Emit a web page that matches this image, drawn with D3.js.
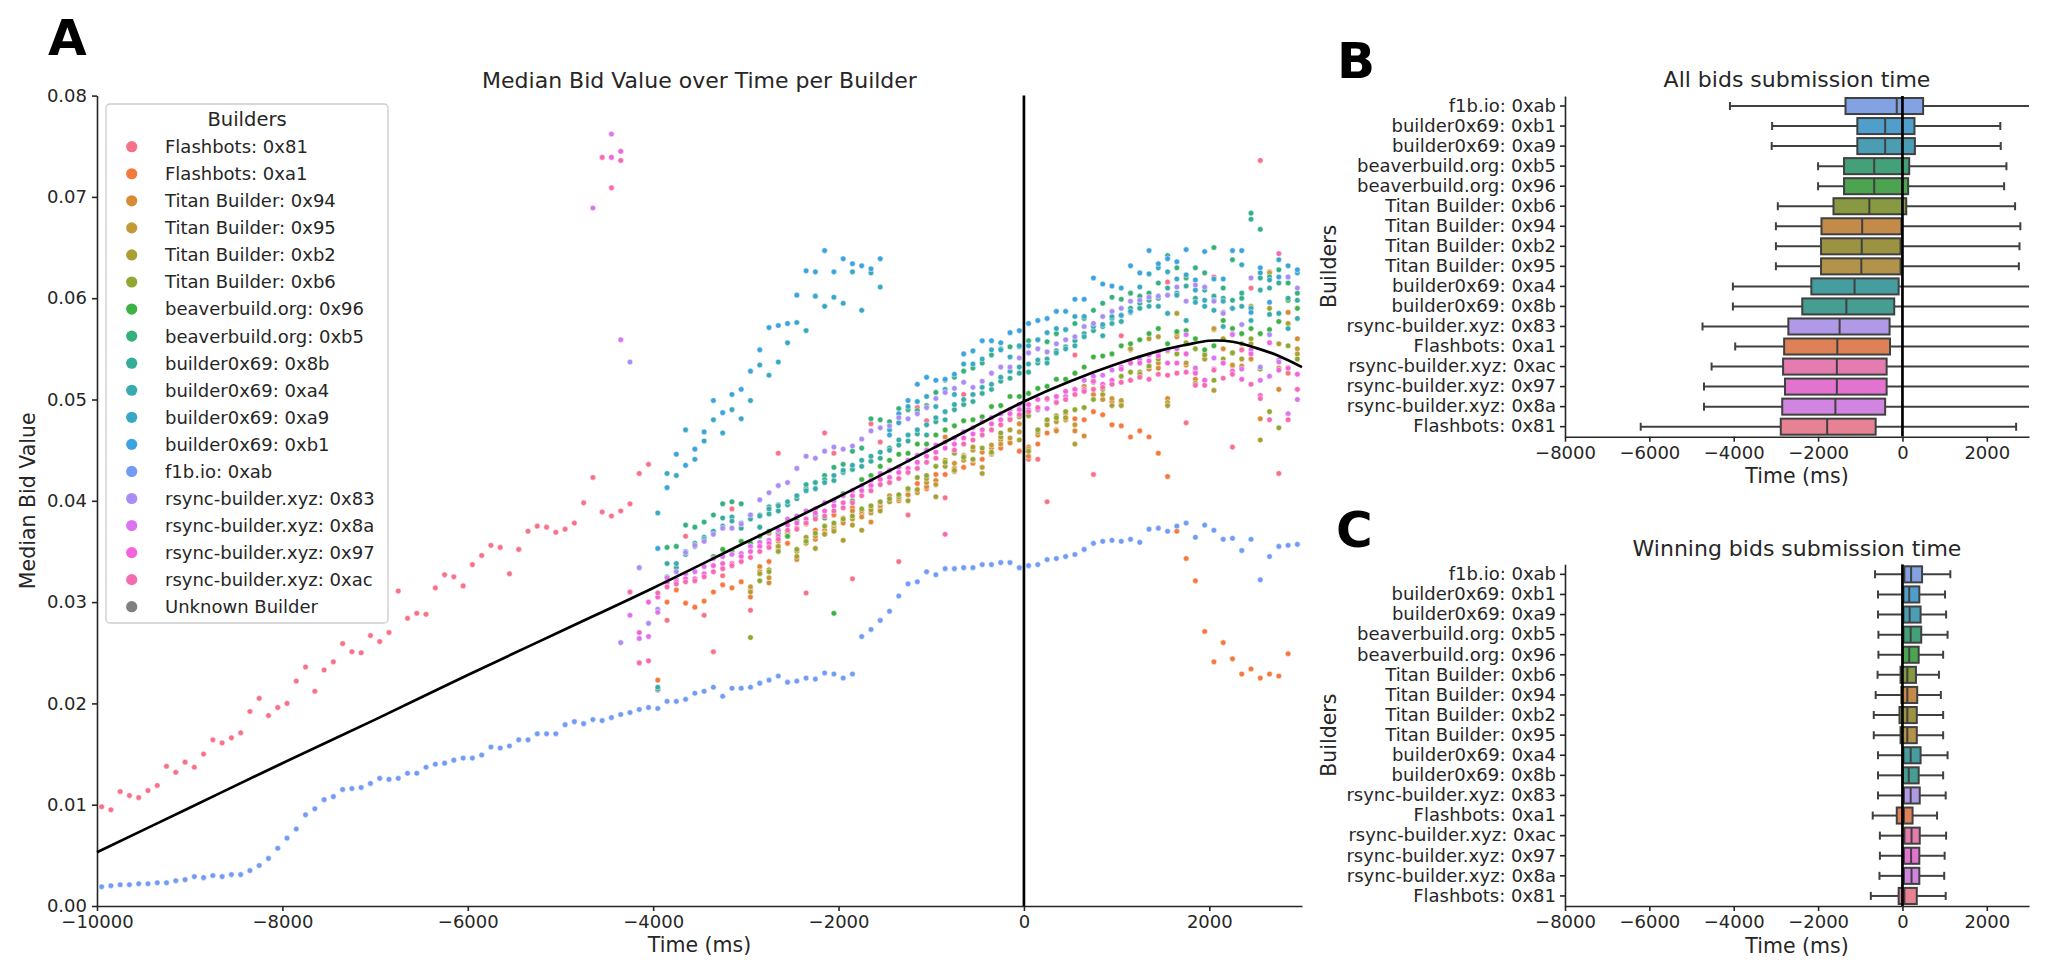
<!DOCTYPE html>
<html lang="en">
<head>
<meta charset="utf-8">
<script src="https://cdn.jsdelivr.net/npm/d3@7/dist/d3.min.js"></script>
<style>
body{margin:0;background:#fff;}
svg text{font-family:"DejaVu Sans",sans-serif;fill:#262626;}
</style>
</head>
<body>
<div id="chart"></div>
<script>
// ---- data ----
const builders=["Flashbots: 0x81","Flashbots: 0xa1","Titan Builder: 0x94","Titan Builder: 0x95","Titan Builder: 0xb2","Titan Builder: 0xb6","beaverbuild.org: 0x96","beaverbuild.org: 0xb5","builder0x69: 0x8b","builder0x69: 0xa4","builder0x69: 0xa9","builder0x69: 0xb1","f1b.io: 0xab","rsync-builder.xyz: 0x83","rsync-builder.xyz: 0x8a","rsync-builder.xyz: 0x97","rsync-builder.xyz: 0xac","Unknown Builder"]
const palette=["#f77189","#f5793f","#d88b35","#c49a39","#ab9f33","#8fa832","#3db143","#34b07c","#36ad9b","#37abae","#39a7c6","#3ba3df","#729cf3","#ab8cf4","#dc74f0","#f462dc","#f66bb0","#808080"]

// time bins (ms), 100 ms wide
const binStart=-9950, binWidth=100, binCount=130
const timeBins=d3.range(binCount).map(i=>binStart+i*binWidth)

// first bin index of every builder series (same order as builders)
const firstBin=[0,60,70,70,70,70,66,61,60,60,60,60,0,56,53,55,54]

const bid_0x81=[0.0098,0.0095,0.0113,0.0109,0.0107,0.0114,0.0119,0.0138,0.0132,0.0142,
0.0137,0.0150,0.0164,0.0161,0.0166,0.0171,0.0192,0.0205,0.0188,0.0196,
0.0200,0.0222,0.0236,0.0212,0.0233,0.0241,0.0259,0.0251,0.0250,0.0267,
0.0261,0.0270,0.0311,0.0284,0.0289,0.0288,0.0314,0.0327,0.0325,0.0316,
0.0337,0.0346,0.0356,0.0354,0.0328,0.0352,0.0370,0.0375,0.0374,0.0369,
0.0372,0.0378,0.0398,0.0423,0.0389,0.0385,0.0390,0.0397,0.0427,0.0436,
0.0213,0.0282,null,0.0365,null,0.0287,0.0251,0.0326,0.0392,null,
0.0292,null,0.0368,0.0447,null,null,0.0309,null,0.0467,0.0447,
null,0.0323,null,0.0476,0.0458,null,0.0340,0.0386,0.0492,0.0479,
null,0.0403,null,0.0505,0.0505,null,null,null,null,null,
0.0441,0.0441,0.0399,null,null,0.0544,null,0.0426,null,null,
0.0563,0.0519,null,null,null,0.0616,null,0.0477,null,null,
0.0621,null,0.0453,0.0549,0.0610,0.0736,null,0.0427,0.0526,null]
const bid_0xa1=[0.0223,0.0300,0.0312,0.0299,0.0295,0.0301,0.0310,0.0317,0.0314,0.0320,
0.0305,0.0330,0.0340,0.0352,0.0358,0.0373,0.0377,0.0371,0.0368,0.0386,
0.0380,0.0393,0.0387,0.0394,0.0392,0.0400,0.0405,0.0406,0.0417,0.0412,
0.0426,0.0426,0.0429,0.0433,0.0437,0.0441,0.0446,0.0452,0.0458,0.0449,
0.0453,0.0456,0.0467,0.0470,0.0480,0.0481,0.0480,0.0488,0.0485,0.0475,
0.0474,0.0463,0.0469,0.0463,0.0447,0.0424,0.0370,0.0343,0.0321,0.0271,
0.0241,0.0260,0.0244,0.0229,0.0234,0.0225,0.0229,0.0227,0.0249]
const bid_0x94=[0.0312,0.0335,0.0319,0.0355,0.0366,0.0342,0.0360,0.0362,0.0371,0.0375,
0.0378,0.0390,0.0384,0.0379,0.0395,0.0418,0.0400,0.0406,0.0410,0.0414,
0.0420,0.0463,0.0432,0.0445,0.0440,0.0448,0.0452,0.0460,0.0457,0.0476,
0.0444,0.0465,0.0477,0.0469,0.0486,0.0469,0.0464,0.0505,0.0500,0.0498,
0.0497,0.0549,0.0523,0.0530,0.0531,0.0501,0.0562,0.0534,0.0520,0.0540,
0.0569,0.0550,0.0533,0.0533,0.0540,0.0481,0.0626,0.0510,0.0586,0.0560]
const bid_0x95=[0.0315,0.0330,0.0324,0.0360,0.0370,0.0350,0.0358,0.0365,0.0368,0.0372,
0.0383,0.0382,0.0390,0.0388,0.0398,0.0405,0.0402,0.0411,0.0408,0.0418,
0.0416,0.0440,0.0437,0.0440,0.0450,0.0433,0.0455,0.0456,0.0462,0.0468,
0.0451,0.0470,0.0479,0.0478,0.0480,0.0475,0.0513,0.0519,0.0500,0.0501,
0.0499,0.0550,0.0524,0.0533,0.0536,0.0497,0.0565,0.0536,0.0528,0.0545,
0.0570,0.0586,0.0534,0.0540,0.0592,0.0530,0.0625,0.0531,0.0531,0.0550]
const bid_0xb2=[0.0310,0.0328,0.0332,0.0355,0.0368,0.0345,0.0364,0.0353,0.0367,0.0370,
0.0361,0.0376,0.0371,0.0391,0.0390,0.0399,0.0404,0.0400,0.0411,0.0422,
0.0404,0.0434,0.0430,0.0444,0.0453,0.0427,0.0447,0.0463,0.0470,0.0460,
0.0449,0.0468,0.0475,0.0484,0.0482,0.0456,0.0509,0.0517,0.0505,0.0494,
0.0494,0.0550,0.0527,0.0560,0.0562,0.0494,0.0585,0.0555,0.0516,0.0540,
0.0509,0.0560,0.0546,0.0540,0.0555,0.0460,0.0590,0.0555,0.0575,0.0545]
const bid_0xb6=[0.0265,0.0321,0.0330,0.0350,0.0365,0.0352,0.0360,0.0368,0.0375,0.0378,
0.0382,0.0385,0.0392,0.0395,0.0399,0.0402,0.0406,0.0412,0.0423,0.0425,
0.0434,0.0438,0.0447,0.0443,0.0441,0.0452,0.0448,0.0467,0.0481,0.0483,
0.0484,0.0470,0.0480,0.0482,0.0488,0.0490,0.0492,0.0500,0.0510,0.0515,
0.0523,0.0527,0.0525,0.0533,0.0540,0.0548,0.0545,0.0556,0.0550,0.0544,
0.0519,0.0540,0.0546,0.0555,0.0560,0.0530,0.0488,0.0472,0.0553,0.0540]
const bid_0x96=[0.0345,0.0352,0.0350,0.0360,
0.0358,0.0365,0.0370,0.0368,0.0365,0.0380,0.0378,0.0385,0.0383,0.0289,
0.0407,0.0400,0.0421,0.0425,0.0434,0.0440,0.0446,0.0447,0.0456,0.0456,
0.0465,0.0470,0.0474,0.0479,0.0480,0.0483,0.0493,0.0494,0.0503,0.0503,
0.0506,0.0511,0.0513,0.0520,0.0520,0.0526,0.0532,0.0542,0.0543,0.0545,
0.0553,0.0555,0.0559,0.0565,0.0570,0.0555,0.0567,0.0568,0.0560,0.0549,
0.0553,0.0578,0.0570,0.0565,0.0570,0.0565,0.0569,0.0577,0.0598,0.0590]
const bid_0xb5=[0.0354,0.0355,0.0376,0.0374,0.0379,0.0386,0.0397,0.0399,0.0397,
0.0386,0.0386,0.0394,0.0396,0.0396,0.0405,0.0412,0.0418,0.0425,0.0433,
0.0436,0.0449,0.0452,0.0481,0.0480,0.0478,0.0491,0.0490,0.0489,0.0494,
0.0507,0.0519,0.0522,0.0528,0.0531,0.0536,0.0544,0.0550,0.0552,0.0552,
0.0558,0.0559,0.0557,0.0565,0.0569,0.0575,0.0580,0.0588,0.0595,0.0601,
0.0599,0.0605,0.0602,0.0605,0.0615,0.0642,0.0630,0.0620,0.0630,0.0625,
0.0650,0.0610,0.0638,0.0600,0.0684,0.0668,0.0621,0.0628,0.0615,0.0605]
const bid_0x8b=[0.0214,0.0338,0.0334,0.0347,0.0358,0.0364,0.0369,0.0383,0.0384,0.0373,
0.0386,0.0374,0.0387,0.0390,0.0396,0.0402,0.0416,0.0418,0.0421,0.0420,
0.0428,0.0431,0.0434,0.0439,0.0442,0.0452,0.0455,0.0459,0.0466,0.0465,
0.0478,0.0480,0.0490,0.0495,0.0498,0.0506,0.0510,0.0518,0.0521,0.0526,
0.0527,0.0536,0.0540,0.0548,0.0552,0.0558,0.0565,0.0568,0.0572,0.0580,
0.0583,0.0590,0.0595,0.0598,0.0600,0.0610,0.0605,0.0612,0.0600,0.0608,
0.0602,0.0600,0.0598,0.0605,0.0678,0.0620,0.0610,0.0615,0.0600,0.0598]
const bid_0xa4=[0.0216,0.0325,0.0338,0.0350,0.0355,0.0362,0.0370,0.0375,0.0380,0.0378,
0.0382,0.0385,0.0392,0.0395,0.0399,0.0405,0.0410,0.0412,0.0418,0.0425,
0.0430,0.0435,0.0440,0.0444,0.0448,0.0450,0.0460,0.0465,0.0470,0.0475,
0.0482,0.0488,0.0495,0.0500,0.0505,0.0512,0.0515,0.0522,0.0528,0.0532,
0.0535,0.0539,0.0536,0.0546,0.0550,0.0553,0.0562,0.0573,0.0563,0.0575,
0.0577,0.0586,0.0590,0.0592,0.0592,0.0585,0.0603,0.0578,0.0596,0.0592,
0.0588,0.0572,0.0590,0.0592,0.0578,0.0608,0.0584,0.0585,0.0570,0.0580]
const bid_0xa9=[0.0388,0.0427,0.0425,0.0470,0.0441,0.0459,0.0480,0.0467,0.0490,0.0481,
0.0499,0.0534,0.0524,0.0537,0.0556,0.0576,0.0568,0.0602,0.0592,0.0601,
0.0595,0.0626,0.0588,0.0625,0.0611,0.0470,0.0477,0.0493,0.0498,0.0503,
0.0493,0.0510,0.0505,0.0535,0.0535,0.0540,0.0549,0.0549,0.0542,0.0553,
0.0553,0.0559,0.0566,0.0570,0.0569,0.0582,0.0582,0.0572,0.0574,0.0582,
0.0583,0.0587,0.0611,0.0624,0.0630,0.0626,0.0619,0.0623,0.0608,0.0598,
0.0598,0.0597,0.0590,0.0633,0.0590,0.0625,0.0618,0.0638,0.0632,0.0625]
const bid_0xb1=[0.0353,0.0413,0.0446,0.0435,0.0451,0.0468,0.0499,0.0487,0.0505,0.0510,
0.0528,0.0549,0.0571,0.0573,0.0575,0.0603,0.0627,0.0626,0.0647,0.0626,
0.0639,0.0634,0.0632,0.0629,0.0639,0.0465,0.0486,0.0499,0.0515,0.0522,
0.0519,0.0520,0.0525,0.0545,0.0548,0.0558,0.0558,0.0556,0.0566,0.0568,
0.0575,0.0578,0.0580,0.0587,0.0587,0.0599,0.0599,0.0620,0.0614,0.0612,
0.0610,0.0632,0.0625,0.0647,0.0634,0.0639,0.0636,0.0648,0.0618,0.0646,
0.0619,0.0619,0.0647,0.0647,0.0586,0.0630,0.0596,0.0621,0.0621,0.0628]
const bid_0xab=[0.0019,0.0020,0.0021,0.0021,0.0022,0.0022,0.0023,0.0023,0.0025,0.0026,
0.0029,0.0028,0.0030,0.0029,0.0031,0.0031,0.0035,0.0040,0.0047,0.0057,
0.0067,0.0076,0.0090,0.0096,0.0105,0.0108,0.0115,0.0116,0.0117,0.0121,
0.0126,0.0125,0.0126,0.0131,0.0131,0.0137,0.0140,0.0141,0.0144,0.0146,
0.0146,0.0149,0.0157,0.0156,0.0158,0.0164,0.0164,0.0170,0.0170,0.0170,
0.0179,0.0182,0.0180,0.0184,0.0183,0.0186,0.0189,0.0191,0.0194,0.0196,
0.0195,0.0202,0.0202,0.0204,0.0210,0.0212,0.0216,0.0207,0.0215,0.0215,
0.0216,0.0220,0.0223,0.0227,0.0221,0.0222,0.0225,0.0224,0.0230,0.0229,
0.0225,0.0229,0.0266,0.0273,0.0282,0.0291,0.0306,0.0318,0.0320,0.0330,
0.0327,0.0333,0.0333,0.0334,0.0334,0.0337,0.0337,0.0339,0.0339,0.0334,
0.0336,0.0337,0.0342,0.0343,0.0345,0.0347,0.0352,0.0358,0.0360,0.0361,
0.0360,0.0362,0.0359,0.0372,0.0373,0.0370,0.0375,0.0378,0.0364,0.0376,
0.0371,0.0362,0.0363,0.0351,0.0362,0.0322,0.0345,0.0355,0.0356,0.0357]
const bid_0x83=[0.0260,0.0537,0.0334,0.0279,
0.0293,0.0320,0.0330,0.0349,0.0356,0.0360,0.0367,0.0373,0.0373,0.0377,
0.0386,0.0401,0.0408,0.0415,0.0418,0.0432,0.0444,0.0442,0.0449,0.0453,
0.0451,0.0454,0.0461,0.0469,0.0472,0.0474,0.0482,0.0481,0.0486,0.0492,
0.0501,0.0507,0.0511,0.0517,0.0512,0.0518,0.0526,0.0532,0.0532,0.0541,
0.0546,0.0550,0.0547,0.0555,0.0559,0.0562,0.0572,0.0575,0.0582,0.0587,
0.0590,0.0597,0.0598,0.0601,0.0602,0.0603,0.0611,0.0597,0.0613,0.0611,
0.0597,0.0585,0.0565,0.0574,0.0620,0.0532,0.0564,0.0539,0.0621,0.0610]
const bid_0x8a=[0.0689,null,0.0762,0.0559,0.0287,0.0264,0.0266,
0.0290,0.0324,0.0322,0.0328,0.0330,0.0335,0.0343,0.0345,0.0347,0.0348,
0.0355,0.0359,0.0361,0.0371,0.0382,0.0385,0.0390,0.0392,0.0398,0.0400,
0.0405,0.0410,0.0415,0.0420,0.0427,0.0430,0.0433,0.0440,0.0445,0.0450,
0.0455,0.0458,0.0462,0.0468,0.0472,0.0478,0.0482,0.0486,0.0490,0.0495,
0.0490,0.0490,0.0491,0.0498,0.0503,0.0509,0.0519,0.0523,0.0524,0.0529,
0.0532,0.0536,0.0539,0.0544,0.0547,0.0549,0.0550,0.0564,0.0531,0.0519,
0.0541,0.0536,0.0564,0.0530,0.0549,0.0519,0.0523,0.0537,0.0486,0.0500]
const bid_0x97=[0.0739,0.0745,0.0310,0.0270,0.0300,
0.0305,0.0319,0.0320,0.0323,0.0323,0.0328,0.0336,0.0338,0.0338,0.0345,
0.0350,0.0355,0.0358,0.0365,0.0376,0.0378,0.0382,0.0388,0.0390,0.0395,
0.0398,0.0405,0.0410,0.0415,0.0421,0.0423,0.0428,0.0432,0.0438,0.0444,
0.0448,0.0452,0.0456,0.0462,0.0466,0.0470,0.0476,0.0480,0.0486,0.0490,
0.0495,0.0500,0.0500,0.0503,0.0508,0.0510,0.0510,0.0518,0.0515,0.0519,
0.0530,0.0536,0.0536,0.0538,0.0543,0.0536,0.0536,0.0545,0.0526,0.0519,
0.0530,0.0536,0.0528,0.0520,0.0545,0.0504,0.0556,0.0529,0.0531,0.0525]
const bid_0xac=[0.0739,0.0709,0.0736,0.0310,0.0240,0.0242,
0.0309,0.0315,0.0318,0.0320,0.0321,0.0325,0.0330,0.0333,0.0336,0.0340,
0.0344,0.0350,0.0354,0.0362,0.0371,0.0372,0.0378,0.0382,0.0385,0.0390,
0.0393,0.0398,0.0405,0.0410,0.0416,0.0418,0.0422,0.0428,0.0432,0.0438,
0.0442,0.0367,0.0450,0.0456,0.0460,0.0465,0.0470,0.0475,0.0480,0.0485,
0.0488,0.0492,0.0501,0.0497,0.0500,0.0505,0.0508,0.0510,0.0512,0.0515,
0.0517,0.0519,0.0522,0.0520,0.0525,0.0524,0.0526,0.0527,0.0514,0.0514,
0.0529,0.0521,0.0525,0.0549,0.0515,0.0501,0.0480,0.0644,0.0480,0.0510]

const seriesValues=[bid_0x81,bid_0xa1,bid_0x94,bid_0x95,bid_0xb2,bid_0xb6,bid_0x96,bid_0xb5,bid_0x8b,bid_0xa4,bid_0xa9,bid_0xb1,bid_0xab,bid_0x83,bid_0x8a,bid_0x97,bid_0xac]

// trend curve
const fitTime=[-10000,-9000,-8000,-7000,-6000,-5000,-4000,-3000,-2000,-1000,0,500,1000,1500,1750,2000,2250,2500,2750,3000]
const fitValue=[0.0053,0.0097,0.0141,0.0184,0.0228,0.0271,0.0314,0.0359,0.0404,0.0451,0.0498,0.0518,0.0535,0.0549,0.0554,0.0558,0.0557,0.0551,0.0543,0.0532]

// box plots (rows top to bottom)
const boxOrder=["f1b.io: 0xab","builder0x69: 0xb1","builder0x69: 0xa9","beaverbuild.org: 0xb5","beaverbuild.org: 0x96","Titan Builder: 0xb6","Titan Builder: 0x94","Titan Builder: 0xb2","Titan Builder: 0x95","builder0x69: 0xa4","builder0x69: 0x8b","rsync-builder.xyz: 0x83","Flashbots: 0xa1","rsync-builder.xyz: 0xac","rsync-builder.xyz: 0x97","rsync-builder.xyz: 0x8a","Flashbots: 0x81"]
const allLow=[-4090,-3090,-3100,-2000,-2000,-2955,-3000,-3000,-3000,-4020,-4020,-4740,-3965,-4525,-4705,-4705,-6205]
const allQ1=[-1350,-1070,-1070,-1385,-1385,-1635,-1920,-1930,-1930,-2160,-2375,-2705,-2805,-2830,-2785,-2850,-2885]
const allMed=[-135,-410,-410,-670,-670,-785,-955,-965,-975,-1135,-1330,-1490,-1545,-1555,-1555,-1590,-1785]
const allQ3=[490,285,295,160,135,90,-25,-45,-45,-90,-195,-305,-295,-375,-375,-410,-635]
const allHigh=[3500,2320,2330,2465,2410,2670,2795,2775,2760,3500,3500,3500,3500,3500,3500,3500,2695]
const winLow=[-650,-580,-580,-570,-570,-590,-635,-680,-680,-580,-580,-580,-705,-535,-535,-545,-750]
const winQ1=[45,25,25,25,10,-45,-25,-70,-45,25,10,35,-135,45,35,35,-90]
const winMed=[205,160,170,195,160,115,115,115,115,195,150,195,35,215,205,215,45]
const winQ3=[465,400,430,445,385,320,350,340,340,430,385,410,240,410,400,400,340]
const winHigh=[1135,1010,1035,1070,965,865,910,965,965,1070,965,1025,820,1035,1000,990,1025]

const xTicksA=[-10000,-8000,-6000,-4000,-2000,0,2000]
const yTicksA=[0,0.01,0.02,0.03,0.04,0.05,0.06,0.07,0.08]
const xTicksBox=[-8000,-6000,-4000,-2000,0,2000]

// ---- drawing ----
const W=2048,H=979
const svg=d3.select("#chart").append("svg").attr("width",W).attr("height",H)
const colorOf={}
builders.forEach((b,i)=>{colorOf[b]=palette[i]})
const fmtInt=d3.format("d")

function styleAxis(g,size){
g.selectAll(".domain").attr("stroke","#262626").attr("stroke-width",1.6)
g.selectAll(".tick line").attr("stroke","#262626").attr("stroke-width",1.6)
g.selectAll(".tick text").attr("fill","#262626").style("font-size",size+"px").style("font-family","DejaVu Sans")
}

// panel A
const xA=d3.scaleLinear().domain([-10000,3000]).range([97,1302])
const yA=d3.scaleLinear().domain([0,0.08]).range([906,95.6])
const gA=svg.append("g")

const gxA=gA.append("g").attr("transform","translate(0,"+yA(0)+")")
.call(d3.axisBottom(xA).tickValues(xTicksA).tickFormat(fmtInt).tickSize(5).tickPadding(4.5).tickSizeOuter(0))
styleAxis(gxA,18)
const gyA=gA.append("g").attr("transform","translate("+xA(-10000)+",0)")
.call(d3.axisLeft(yA).tickValues(yTicksA).tickFormat(d3.format(".2f")).tickSize(5).tickPadding(5).tickSizeOuter(0))
styleAxis(gyA,18)

const pts=[]
seriesValues.forEach((vals,k)=>{
vals.forEach((v,j)=>{ if(v!=null){ pts.push({k:k,t:timeBins[firstBin[k]+j],v:v}) } })
})
gA.append("g").selectAll("circle").data(pts).enter().append("circle")
.attr("cx",d=>xA(d.t)).attr("cy",d=>yA(d.v)).attr("r",2.8)
.attr("fill",d=>palette[d.k]).attr("stroke","#fff").attr("stroke-width",0.5)

const fitLine=d3.line().x((d,i)=>xA(fitTime[i])).y(d=>yA(d)).curve(d3.curveCatmullRom)
gA.append("path").attr("d",fitLine(fitValue)).attr("fill","none").attr("stroke","#000").attr("stroke-width",2.7)
gA.append("line").attr("x1",xA(0)).attr("x2",xA(0)).attr("y1",yA(0)).attr("y2",yA(0.08))
.attr("stroke","#000").attr("stroke-width",2.7)

gA.append("text").attr("x",(xA(-10000)+xA(3000))/2).attr("y",88).attr("text-anchor","middle")
.style("font-size","22px").text("Median Bid Value over Time per Builder")
gA.append("text").attr("x",(xA(-10000)+xA(3000))/2).attr("y",952).attr("text-anchor","middle")
.style("font-size","20.5px").text("Time (ms)")
gA.append("text").attr("transform","translate(35,"+(yA(0)+yA(0.08))/2+") rotate(-90)").attr("text-anchor","middle")
.style("font-size","20.5px").text("Median Bid Value")

// legend
const lg=gA.append("g")
lg.append("rect").attr("x",106).attr("y",104).attr("width",282).attr("height",519).attr("rx",4)
.attr("fill","#fff").attr("fill-opacity",0.8).attr("stroke","#cccccc").attr("stroke-width",1.3)
lg.append("text").attr("x",247).attr("y",126).attr("text-anchor","middle").style("font-size","19.5px").text("Builders")
const le=lg.selectAll("g.entry").data(builders).enter().append("g")
.attr("transform",(d,i)=>"translate(0,"+(146.7+i*27.06)+")")
le.append("circle").attr("cx",131.7).attr("cy",0).attr("r",5.6).attr("fill",(d,i)=>palette[i])
le.append("text").attr("x",165).attr("y",6.4).style("font-size","18px").text(d=>d)

// panels B and C
function boxPanel(top,bottom,title,titleY,low,q1,med,q3,high){
const x=d3.scaleLinear().domain([-8000,3000]).range([1565,2029])
const y=d3.scaleBand().domain(boxOrder).range([top,bottom])
const g=svg.append("g")
const clipId="clip"+Math.round(top)
g.append("clipPath").attr("id",clipId).append("rect").attr("x",x(-8000)).attr("y",top).attr("width",x(3000)-x(-8000)).attr("height",bottom-top)
const body=g.append("g").attr("clip-path","url(#"+clipId+")")
const bw=y.bandwidth()*0.8
const edge="#404040"
boxOrder.forEach((name,i)=>{
const cy=y(name)+y.bandwidth()/2
const hc=d3.hsl(colorOf[name]); hc.s*=0.75
body.append("line").attr("x1",x(low[i])).attr("x2",x(q1[i])).attr("y1",cy).attr("y2",cy).attr("stroke",edge).attr("stroke-width",2)
body.append("line").attr("x1",x(q3[i])).attr("x2",x(high[i])).attr("y1",cy).attr("y2",cy).attr("stroke",edge).attr("stroke-width",2)
body.append("line").attr("x1",x(low[i])).attr("x2",x(low[i])).attr("y1",cy-bw/4).attr("y2",cy+bw/4).attr("stroke",edge).attr("stroke-width",2)
body.append("line").attr("x1",x(high[i])).attr("x2",x(high[i])).attr("y1",cy-bw/4).attr("y2",cy+bw/4).attr("stroke",edge).attr("stroke-width",2)
body.append("rect").attr("x",x(q1[i])).attr("y",cy-bw/2).attr("width",x(q3[i])-x(q1[i])).attr("height",bw)
.attr("fill",hc.formatHex()).attr("stroke",edge).attr("stroke-width",2)
body.append("line").attr("x1",x(med[i])).attr("x2",x(med[i])).attr("y1",cy-bw/2).attr("y2",cy+bw/2).attr("stroke",edge).attr("stroke-width",2)
})
body.append("line").attr("x1",x(0)).attr("x2",x(0)).attr("y1",top).attr("y2",bottom).attr("stroke","#000").attr("stroke-width",2.7)

const gx=g.append("g").attr("transform","translate(0,"+bottom+")")
.call(d3.axisBottom(x).tickValues(xTicksBox).tickFormat(fmtInt).tickSize(5).tickPadding(4.5).tickSizeOuter(0))
styleAxis(gx,18)
const gy=g.append("g").attr("transform","translate("+x(-8000)+",0)")
.call(d3.axisLeft(y).tickSize(5).tickPadding(4).tickSizeOuter(0))
styleAxis(gy,18)
g.append("text").attr("x",(x(-8000)+x(3000))/2).attr("y",titleY).attr("text-anchor","middle").style("font-size","22px").text(title)
g.append("text").attr("x",(x(-8000)+x(3000))/2).attr("y",bottom+46.5).attr("text-anchor","middle").style("font-size","20.5px").text("Time (ms)")
g.append("text").attr("transform","translate(1336,"+(top+bottom)/2+") rotate(-90)").attr("text-anchor","middle").style("font-size","20.5px").text("Builders")
}
boxPanel(96,436.7,"All bids submission time",87,allLow,allQ1,allMed,allQ3,allHigh)
boxPanel(564.3,906,"Winning bids submission time",556,winLow,winQ1,winMed,winQ3,winHigh)

// panel letters
const letters=[["A",48,55],["B",1337,78],["C",1336,547]]
svg.selectAll("text.panel").data(letters).enter().append("text").attr("class","panel")
.attr("x",d=>d[1]).attr("y",d=>d[2]).style("font-size","50px").style("font-weight","bold").style("fill","#000").text(d=>d[0])
</script>
</body>
</html>
